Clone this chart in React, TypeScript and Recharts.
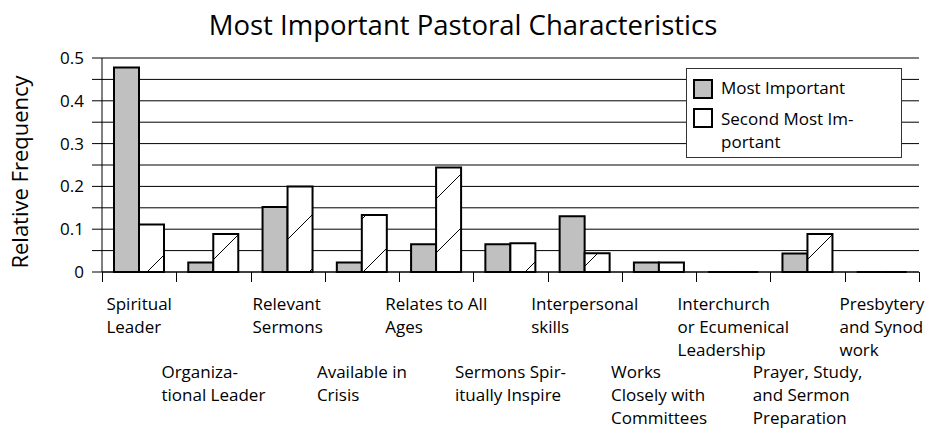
import React from 'react';
import { BarChart, Bar, XAxis, YAxis, CartesianGrid, Legend } from 'recharts';

const categories = [
  'Spiritual Leader',
  'Organizational Leader',
  'Relevant Sermons',
  'Available in Crisis',
  'Relates to All Ages',
  'Sermons Spiritually Inspire',
  'Interpersonal skills',
  'Works Closely with Committees',
  'Interchurch or Ecumenical Leadership',
  'Prayer, Study, and Sermon Preparation',
  'Presbytery and Synod work',
];

// wrapped the way the original axis shows them
const labelLines = [
  ['Spiritual', 'Leader'],
  ['Organiza-', 'tional Leader'],
  ['Relevant', 'Sermons'],
  ['Available in', 'Crisis'],
  ['Relates to All', 'Ages'],
  ['Sermons Spir-', 'itually Inspire'],
  ['Interpersonal', 'skills'],
  ['Works', 'Closely with', 'Committees'],
  ['Interchurch', 'or Ecumenical', 'Leadership'],
  ['Prayer, Study,', 'and Sermon', 'Preparation'],
  ['Presbytery', 'and Synod', 'work'],
];

const mostImportant = [0.478, 0.022, 0.152, 0.022, 0.065, 0.065, 0.13, 0.022, 0, 0.043, 0];
const secondMost = [0.111, 0.089, 0.2, 0.133, 0.244, 0.067, 0.044, 0.022, 0, 0.089, 0];

const seriesNames = ['Most Important', 'Second Most Important'];
const legendLines = [['Most Important'], ['Second Most Im-', 'portant']];
const yTicks = [0, 0.05, 0.1, 0.15, 0.2, 0.25, 0.3, 0.35, 0.4, 0.45, 0.5];

const data = categories.map((name, i) => ({
  name,
  most: mostImportant[i],
  second: secondMost[i],
}));

const W = 928;
const H = 431;
const FONT = "'Open Sans', sans-serif";
const margin = { top: 58, right: 9, left: 0, bottom: 0 };
const Y_AXIS_W = 102;
const BAND = (W - margin.left - margin.right - Y_AXIS_W) / categories.length;

let ctx: CanvasRenderingContext2D | null = null;
function textWidth(s: string) {
  if (!ctx) ctx = document.createElement('canvas').getContext('2d');
  if (ctx) {
    ctx.font = "17px 'Open Sans'";
    return ctx.measureText(s).width;
  }
  return s.length * 8.5;
}

// snap to the pixel grid so the 1px marks stay crisp
const crisp = (v: number) => Math.round(v) + 0.5;

function CategoryTick(props: any) {
  const { x, y, payload } = props;
  const i = payload.index;
  const lines = labelLines[i];
  const w = Math.max(...lines.map(textWidth));
  const left = x - w / 2;
  const base = y + 38 + (i % 2) * 68;
  const bl = crisp(x - BAND / 2);
  const br = crisp(x + BAND / 2);
  return (
    <g>
      <line x1={bl} y1={y} x2={bl} y2={y + 10} stroke="#000" />
      {i === categories.length - 1 && <line x1={br} y1={y} x2={br} y2={y + 10} stroke="#000" />}
      <text x={left} y={base} fontSize={17} fontFamily={FONT} fill="#000">
        {lines.map((l, k) => (
          <tspan key={k} x={left} dy={k === 0 ? 0 : 23}>
            {l}
          </tspan>
        ))}
      </text>
    </g>
  );
}

// path instead of rect so that zero values still leave their outline on the axis
function OutlinedBar(props: any) {
  const { x, y, width, height, fill } = props;
  if (x == null || y == null) return null;
  const h = Math.max(height || 0, 0);
  const d = `M${x},${y + h}H${x + width}V${y}H${x}Z`;
  return <path d={d} fill={fill} stroke="#000" strokeWidth={2} />;
}

function LegendBox() {
  const swatch = (top: number, fill: string) => (
    <div
      style={{
        position: 'absolute', left: 6, top, width: 20, height: 20,
        boxSizing: 'border-box', border: '2px solid #000', background: fill,
      }}
    />
  );
  return (
    <div
      style={{
        position: 'relative', width: 216, height: 90, boxSizing: 'border-box',
        border: '1px solid #333', background: '#fff', fontFamily: FONT,
        fontSize: 17, lineHeight: '23px', color: '#000',
      }}
    >
      {swatch(10, '#c0c0c0')}
      {swatch(39, '#fff')}
      <div style={{ position: 'absolute', left: 34, top: 7, whiteSpace: 'nowrap' }}>
        {legendLines[0].map((l) => <div key={l}>{l}</div>)}
      </div>
      <div style={{ position: 'absolute', left: 34, top: 38, whiteSpace: 'nowrap' }}>
        {legendLines[1].map((l) => <div key={l}>{l}</div>)}
      </div>
    </div>
  );
}

export default function App() {
  return (
    <div style={{ position: 'absolute', left: 0, top: 0, width: W, height: H, background: '#fff' }}>
      <BarChart width={W} height={H} data={data} margin={margin} barGap={0} barSize={25}>
        <defs>
          <pattern id="diagHatch" patternUnits="userSpaceOnUse" width={54} height={54} x={41} y={0}>
            <rect width={54} height={54} fill="#fff" />
            <line x1={-2} y1={56} x2={56} y2={-2} stroke="#000" strokeWidth={1} />
          </pattern>
        </defs>
        <text x={W / 2 - 1} y={35} textAnchor="middle" fontSize={27.5} fontFamily={FONT} fill="#000">
          Most Important Pastoral Characteristics
        </text>
        <text
          x={28}
          y={172}
          transform="rotate(-90 28 172)"
          textAnchor="middle"
          fontSize={22}
          fontFamily={FONT}
          fill="#000"
        >
          Relative Frequency
        </text>
        <CartesianGrid vertical={false} stroke="#000" />
        <XAxis
          dataKey="name"
          interval={0}
          height={H - 272}
          tickSize={0}
          tickMargin={0}
          tickLine={false}
          axisLine={{ stroke: '#000' }}
          tick={<CategoryTick />}
        />
        <YAxis
          width={Y_AXIS_W}
          domain={[0, 0.5]}
          ticks={yTicks}
          interval={0}
          tickSize={10}
          tickMargin={8}
          axisLine={{ stroke: '#000' }}
          tickLine={{ stroke: '#000' }}
          tick={{ fill: '#000', fontSize: 17, fontFamily: FONT }}
          tickFormatter={(v: number) => (Math.round(v * 100) % 10 === 0 ? String(+v.toFixed(1)) : '')}
        />
        <Legend
          layout="vertical"
          align="center"
          verticalAlign="middle"
          content={<LegendBox />}
          wrapperStyle={{ left: 686, top: 68, width: 216, height: 90 }}
        />
        <Bar
          dataKey="most"
          name={seriesNames[0]}
          fill="#c0c0c0"
          shape={<OutlinedBar />}
          isAnimationActive={false}
        />
        <Bar
          dataKey="second"
          name={seriesNames[1]}
          fill="url(#diagHatch)"
          shape={<OutlinedBar />}
          isAnimationActive={false}
        />
      </BarChart>
    </div>
  );
}
